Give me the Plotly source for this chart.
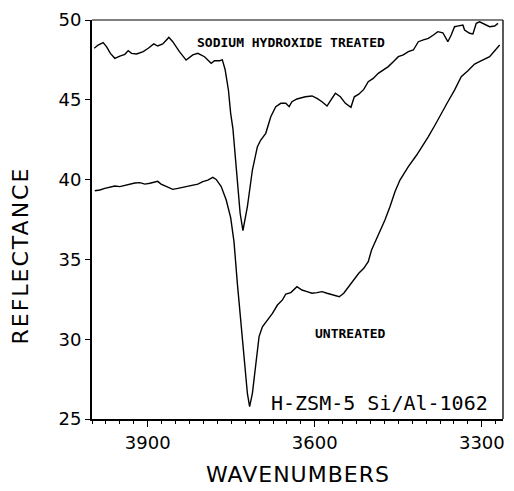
import plotly.graph_objects as go

# Reflectance spectra, wavenumber (cm^-1) vs reflectance
wn_treated = [3996, 3989, 3980, 3974, 3967, 3959, 3950, 3941, 3935, 3929, 3920, 3908,
              3899, 3889, 3882, 3873, 3862, 3855, 3843, 3831, 3819, 3810, 3798, 3786,
              3780, 3771, 3766, 3761, 3755, 3751, 3747, 3742, 3734, 3729, 3721, 3712,
              3703, 3697, 3688, 3679, 3670, 3661, 3652, 3646, 3641, 3632, 3617, 3605,
              3596, 3587, 3578, 3572, 3563, 3554, 3545, 3535, 3529, 3521, 3512, 3504,
              3495, 3486, 3477, 3468, 3459, 3450, 3441, 3432, 3423, 3414, 3405, 3396,
              3387, 3379, 3370, 3361, 3355, 3349, 3344, 3334, 3331, 3322, 3316, 3310,
              3304, 3295, 3286, 3277, 3271]
refl_treated = [48.23, 48.43, 48.58, 48.33, 47.91, 47.60, 47.74, 47.85, 48.08, 47.91, 47.87, 48.02,
                48.23, 48.50, 48.37, 48.50, 48.91, 48.64, 48.02, 47.49, 47.81, 47.91, 47.70, 47.29,
                47.45, 47.45, 47.50, 46.90, 45.60, 44.15, 43.20, 41.23, 37.89, 36.80, 38.30, 40.60,
                42.06, 42.48, 42.90, 43.94, 44.57, 44.78, 44.78, 44.57, 44.88, 45.05, 45.19, 45.24,
                45.09, 44.88, 44.61, 44.94, 45.41, 45.19, 44.78, 44.53, 45.19, 45.35, 45.65, 46.13,
                46.34, 46.66, 46.87, 47.08, 47.39, 47.70, 47.81, 48.02, 48.12, 48.64, 48.75, 48.85,
                49.06, 49.27, 49.20, 48.64, 49.06, 49.58, 49.62, 49.69, 49.37, 49.17, 49.12, 49.79,
                49.89, 49.75, 49.58, 49.62, 49.79]

wn_untreated = [3995, 3986, 3977, 3968, 3959, 3950, 3941, 3932, 3923, 3914, 3905, 3896,
                3888, 3882, 3876, 3867, 3855, 3846, 3837, 3828, 3819, 3810, 3801, 3792,
                3783, 3777, 3768, 3759, 3751, 3745, 3739, 3733, 3727, 3721, 3717, 3712,
                3706, 3700, 3694, 3685, 3676, 3667, 3658, 3652, 3643, 3632, 3623, 3614,
                3605, 3596, 3587, 3578, 3566, 3556, 3548, 3539, 3530, 3521, 3512, 3504,
                3498, 3486, 3474, 3465, 3456, 3447, 3432, 3417, 3408, 3396, 3384, 3373,
                3361, 3349, 3337, 3325, 3313, 3307, 3286, 3268]
refl_untreated = [39.30, 39.35, 39.45, 39.52, 39.60, 39.56, 39.64, 39.72, 39.79, 39.81, 39.72, 39.77,
                  39.85, 39.89, 39.72, 39.56, 39.39, 39.45, 39.52, 39.60, 39.66, 39.72, 39.87, 39.97,
                  40.14, 40.01, 39.56, 38.72, 37.62, 36.10, 33.50, 31.41, 28.90, 26.61, 25.77, 26.61,
                  28.28, 30.16, 30.78, 31.20, 31.62, 32.14, 32.46, 32.83, 32.92, 33.29, 33.08, 32.98,
                  32.88, 32.92, 32.98, 32.88, 32.77, 32.66, 32.88, 33.29, 33.71, 34.13, 34.44, 34.86,
                  35.59, 36.53, 37.47, 38.30, 39.24, 39.97, 40.81, 41.54, 42.02, 42.69, 43.42, 44.15,
                  44.88, 45.61, 46.45, 46.82, 47.24, 47.35, 47.70, 48.43]

x_ticks = [3900, 3600, 3300]
y_ticks = [25, 30, 35, 40, 45, 50]

label_font = dict(family="DejaVu Sans Mono", size=13, color="black", weight="bold")
title_font = dict(family="DejaVu Sans", size=22, color="black")

fig = go.Figure()
fig.add_trace(go.Scatter(x=wn_treated, y=refl_treated, mode="lines",
                         line=dict(color="black", width=1.4), showlegend=False))
fig.add_trace(go.Scatter(x=wn_untreated, y=refl_untreated, mode="lines",
                         line=dict(color="black", width=1.4), showlegend=False))

fig.add_annotation(x=3643, y=48.62, text="SODIUM HYDROXIDE TREATED", showarrow=False,
                   font=label_font, xanchor="center", yanchor="middle")
fig.add_annotation(x=3536, y=30.33, text="UNTREATED", showarrow=False,
                   font=label_font, xanchor="center", yanchor="middle")
fig.add_annotation(x=3484, y=26.0, text="H-ZSM-5 Si/Al-1062", showarrow=False,
                   font=dict(family="DejaVu Sans Mono", size=20, color="black"),
                   xanchor="center", yanchor="middle")

# axis titles
fig.add_annotation(xref="paper", yref="paper", x=0.5, y=-0.14,
                   text='<span style="letter-spacing:1px">WAVENUMBERS</span>',
                   showarrow=False, xanchor="center", yanchor="middle", font=title_font)
fig.add_annotation(xref="paper", yref="paper", x=-0.174, y=0.411,
                   text='<span style="letter-spacing:2px">REFLECTANCE</span>',
                   showarrow=False, textangle=-90, xanchor="center", yanchor="middle",
                   font=title_font)

# lighter top and right frame lines
fig.add_shape(type="line", xref="paper", yref="paper", x0=0, x1=1, y0=1, y1=1,
              line=dict(color="black", width=1.1))
fig.add_shape(type="line", xref="paper", yref="paper", x0=1, x1=1, y0=0, y1=1,
              line=dict(color="black", width=1.3))

fig.update_xaxes(range=[4000, 3262], tickmode="array", tickvals=x_ticks,
                 ticktext=[str(v) for v in x_ticks],
                 ticks="outside", ticklen=6, tickwidth=1.3, tickcolor="black",
                 minor=dict(dtick=25, tick0=4000, ticks="outside", ticklen=3,
                            tickwidth=1.3, tickcolor="black", showgrid=False),
                 showline=True, linecolor="black", linewidth=2, mirror=False,
                 showgrid=False, zeroline=False,
                 tickfont=dict(family="DejaVu Sans", size=18, color="black"))
fig.update_yaxes(range=[25, 50], tickmode="array", tickvals=y_ticks,
                 ticks="outside", ticklen=5, tickwidth=1.3, tickcolor="black",
                 showline=True, linecolor="black", linewidth=2, mirror=False,
                 showgrid=False, zeroline=False,
                 tickfont=dict(family="DejaVu Sans", size=18, color="black"))

fig.update_layout(width=514, height=491,
                  margin=dict(l=92, r=9, t=20, b=72),
                  paper_bgcolor="white", plot_bgcolor="white")

fig.write_html("out.html")
